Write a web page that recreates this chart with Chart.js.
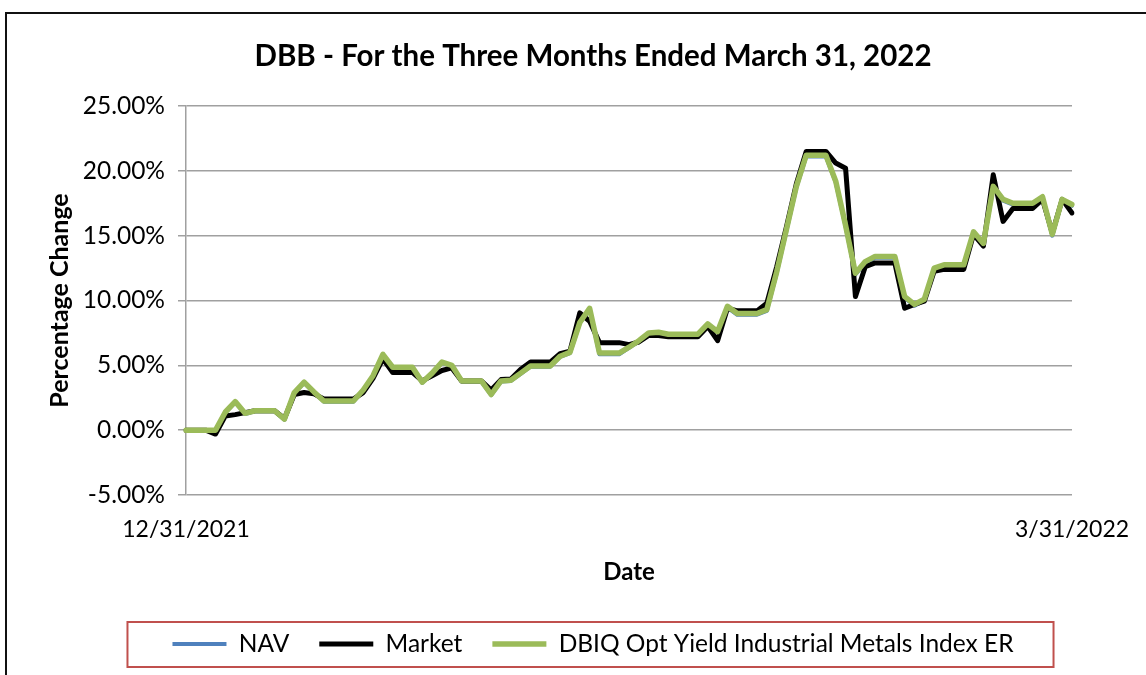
<!DOCTYPE html>
<html>
<head>
<meta charset="utf-8">
<title>DBB - For the Three Months Ended March 31, 2022</title>
<script src="https://cdn.jsdelivr.net/npm/chart.js@4.4.1/dist/chart.umd.min.js"></script>
<style>
  html, body { margin: 0; padding: 0; background: #fff; }
  body { width: 1146px; height: 675px; position: relative; overflow: hidden; }
  .moldura { position: absolute; left: 5px; top: 12px; width: 1200px; height: 700px; border: 2px solid #111; }
  #grafico { position: absolute; left: 0; top: 0; }
</style>
</head>
<body>
<div class="moldura"></div>
<canvas id="grafico" width="1146" height="675"></canvas>
<script>
const FONTE = "Lato, 'Open Sans', sans-serif";

// Datas de 12/31/2021 a 3/31/2022 (fins de semana repetem o valor de sexta)
const datas = [];
const inicio = new Date(2021, 11, 31);
for (let i = 0; i <= 90; i++) {
  const d = new Date(inicio);
  d.setDate(d.getDate() + i);
  datas.push((d.getMonth() + 1) + "/" + d.getDate() + "/" + d.getFullYear());
}

const nav = [
  0, 0, 0, 0, 1.35, 2.15, 1.25, 1.45, 1.45, 1.45,
  0.80, 2.85, 3.65, 2.90, 2.20, 2.20, 2.20, 2.20, 3.05, 4.15,
  5.80, 4.80, 4.80, 4.80, 3.65, 4.35, 5.20, 4.95, 3.75, 3.75,
  3.75, 2.70, 3.75, 3.80, 4.35, 4.90, 4.90, 4.90, 5.65, 5.95,
  8.25, 9.30, 5.85, 5.85, 5.85, 6.35, 6.85, 7.45, 7.50, 7.35,
  7.35, 7.35, 7.35, 8.15, 7.55, 9.45, 8.90, 8.90, 8.90, 9.20,
  12.10, 15.40, 18.70, 21.10, 21.10, 21.10, 19.10, 15.70, 12.00, 12.90,
  13.30, 13.30, 13.30, 10.20, 9.60, 10.00, 12.40, 12.65, 12.65, 12.65,
  15.20, 14.30, 18.70, 17.70, 17.40, 17.40, 17.40, 17.90, 15.00, 17.70,
  17.30,
];

const mercado = [
  0, 0, 0, -0.30, 1.10, 1.20, 1.35, 1.50, 1.50, 1.50,
  0.90, 2.75, 2.90, 2.80, 2.40, 2.40, 2.40, 2.40, 2.90, 4.00,
  5.50, 4.45, 4.45, 4.45, 3.80, 4.20, 4.60, 4.80, 3.80, 3.80,
  3.80, 3.10, 3.90, 3.95, 4.70, 5.25, 5.25, 5.25, 5.90, 6.10,
  9.05, 8.40, 6.75, 6.75, 6.75, 6.60, 6.80, 7.30, 7.30, 7.20,
  7.20, 7.20, 7.20, 8.00, 6.90, 9.40, 9.20, 9.20, 9.20, 9.80,
  12.60, 15.70, 19.00, 21.50, 21.50, 21.50, 20.60, 20.20, 10.30, 12.60,
  12.90, 12.90, 12.90, 9.40, 9.70, 9.95, 12.25, 12.40, 12.40, 12.40,
  15.10, 14.20, 19.70, 16.10, 17.10, 17.10, 17.10, 17.80, 15.20, 17.80,
  16.75,
];

const indice = [
  0, 0, 0, 0, 1.40, 2.20, 1.30, 1.50, 1.50, 1.50,
  0.85, 2.90, 3.70, 2.95, 2.25, 2.25, 2.25, 2.25, 3.10, 4.20,
  5.85, 4.85, 4.85, 4.85, 3.70, 4.40, 5.25, 5.00, 3.80, 3.80,
  3.80, 2.75, 3.80, 3.85, 4.40, 4.95, 4.95, 4.95, 5.70, 6.00,
  8.30, 9.40, 5.95, 5.95, 5.95, 6.40, 6.90, 7.50, 7.55, 7.40,
  7.40, 7.40, 7.40, 8.20, 7.60, 9.55, 9.00, 9.00, 9.00, 9.30,
  12.20, 15.50, 18.80, 21.20, 21.20, 21.20, 19.20, 15.80, 12.10, 13.00,
  13.40, 13.40, 13.40, 10.30, 9.70, 10.10, 12.50, 12.75, 12.75, 12.75,
  15.30, 14.40, 18.80, 17.80, 17.50, 17.50, 17.50, 18.00, 15.10, 17.80,
  17.40,
];

const nomesSeries = ["NAV", "Market", "DBIQ Opt Yield Industrial Metals Index ER"];
const coresSeries = ["#4f81bd", "#000000", "#9bbb59"];

// Caixa vermelha em volta da legenda
const caixaLegenda = {
  id: "caixaLegenda",
  afterDraw(chart) {
    const boxes = chart.legend.legendHitBoxes;
    if (!boxes || !boxes.length) return;
    const esq = Math.min(...boxes.map((b) => b.left)) - 45;
    const dir = Math.max(...boxes.map((b) => b.left + b.width)) + 40;
    const centro = boxes[0].top + boxes[0].height / 2;
    const ctx = chart.ctx;
    ctx.save();
    ctx.strokeStyle = "#c0504d";
    ctx.lineWidth = 2;
    ctx.strokeRect(esq, centro - 22, dir - esq, 45);
    ctx.restore();
  },
};

new Chart(document.getElementById("grafico"), {
  type: "line",
  data: {
    labels: datas,
    datasets: [
      { label: nomesSeries[0], data: nav, borderColor: coresSeries[0], backgroundColor: coresSeries[0], borderWidth: 4, order: 2 },
      { label: nomesSeries[1], data: mercado, borderColor: coresSeries[1], backgroundColor: coresSeries[1], borderWidth: 5, order: 1 },
      { label: nomesSeries[2], data: indice, borderColor: coresSeries[2], backgroundColor: coresSeries[2], borderWidth: 5.5, order: 0 },
    ],
  },
  options: {
    responsive: false,
    animation: false,
    devicePixelRatio: 1,
    elements: {
      point: { radius: 0 },
      line: { tension: 0, borderJoinStyle: "round", borderCapStyle: "round" },
    },
    layout: { padding: { left: 44, right: 4, top: 0, bottom: 8.75 } },
    plugins: {
      title: {
        display: true,
        text: "DBB - For the Three Months Ended March 31, 2022",
        color: "#000",
        font: { family: FONTE, size: 29.5, weight: "bold" },
        padding: { top: 38.3, bottom: 32.3 },
      },
      legend: {
        position: "bottom",
        labels: {
          color: "#000",
          font: { family: FONTE, size: 24.5 },
          usePointStyle: true,
          pointStyle: "line",
          pointStyleWidth: 54,
          boxHeight: 24.5,
          padding: 30,
          sort: (a, b) => a.datasetIndex - b.datasetIndex,
        },
      },
      tooltip: { enabled: false },
    },
    scales: {
      x: {
        ticks: {
          autoSkip: false,
          maxRotation: 0,
          minRotation: 0,
          padding: 0,
          color: "#000",
          font: { family: FONTE, size: 23 },
          callback: function (valor, i) {
            return i === 0 || i === datas.length - 1 ? datas[i] : "";
          },
        },
        // grade oculta; tickLength só empurra os rótulos para baixo
        grid: { display: false, drawTicks: true, tickLength: 21 },
        border: { display: false },
        title: {
          display: true,
          text: "Date",
          color: "#000",
          font: { family: FONTE, size: 24, weight: "bold" },
          padding: { top: 15.3, bottom: 15.3 },
        },
        afterFit: (escala) => { escala.height = 106.75; },
      },
      y: {
        min: -5,
        max: 25,
        ticks: {
          stepSize: 5,
          padding: 13,
          color: "#000",
          font: { family: FONTE, size: 24.5 },
          callback: (valor) => valor.toFixed(2) + "%",
        },
        grid: { color: "#a0a0a0", lineWidth: 1.5, tickLength: 8 },
        border: { color: "#a0a0a0", width: 1.5 },
        title: {
          display: true,
          text: "Percentage Change",
          color: "#000",
          font: { family: FONTE, size: 25, weight: "bold" },
          padding: { top: 1, bottom: 1 },
        },
        afterFit: (escala) => { escala.width = 142; },
      },
      direita: {
        position: "right",
        display: true,
        ticks: { display: false },
        grid: { display: false, drawTicks: false },
        border: { display: false },
        afterFit: (escala) => { escala.width = 70; },
      },
    },
  },
  plugins: [caixaLegenda],
});
</script>
</body>
</html>
